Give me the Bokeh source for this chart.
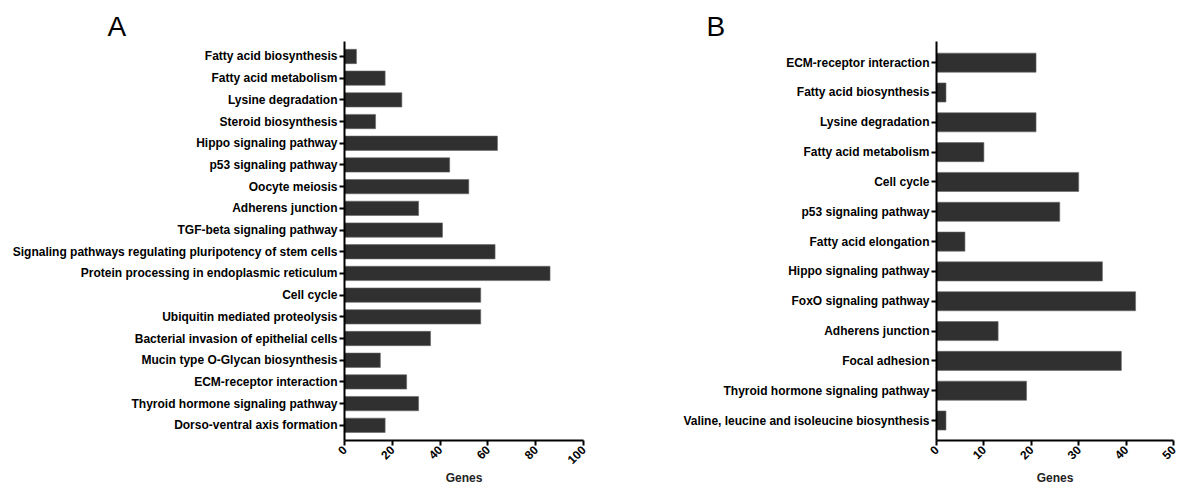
import math
from bokeh.plotting import figure
from bokeh.layouts import row
from bokeh.models import Range1d, FixedTicker
from bokeh.embed import file_html
from bokeh.resources import INLINE

# ---- data ----
pathways_a = [
    "Fatty acid biosynthesis", "Fatty acid metabolism", "Lysine degradation",
    "Steroid biosynthesis", "Hippo signaling pathway", "p53 signaling pathway",
    "Oocyte meiosis", "Adherens junction", "TGF-beta signaling pathway",
    "Signaling pathways regulating pluripotency of stem cells",
    "Protein processing in endoplasmic reticulum", "Cell cycle",
    "Ubiquitin mediated proteolysis", "Bacterial invasion of epithelial cells",
    "Mucin type O-Glycan biosynthesis", "ECM-receptor interaction",
    "Thyroid hormone signaling pathway", "Dorso-ventral axis formation",
]
genes_a = [5, 17, 24, 13, 64, 44, 52, 31, 41, 63, 86, 57, 57, 36, 15, 26, 31, 17]

pathways_b = [
    "ECM-receptor interaction", "Fatty acid biosynthesis", "Lysine degradation",
    "Fatty acid metabolism", "Cell cycle", "p53 signaling pathway",
    "Fatty acid elongation", "Hippo signaling pathway", "FoxO signaling pathway",
    "Adherens junction", "Focal adhesion", "Thyroid hormone signaling pathway",
    "Valine, leucine and isoleucine biosynthesis",
]
genes_b = [21, 2, 21, 10, 30, 26, 6, 35, 42, 13, 39, 19, 2]

ticks_a = [0, 20, 40, 60, 80, 100]
ticks_b = [0, 10, 20, 30, 40, 50]

FONT = "Liberation Sans"
BAR = "#303030"


def make_panel(letter, names, vals, xmax, ticks, bar_h, ypad_top, ypad_bot,
               left_border, frame_w, right_border, title_offset, label_standoff):
    n = len(names)
    idx = list(range(n))
    p = figure(
        output_backend="svg", toolbar_location=None,
        frame_width=frame_w, frame_height=399,
        min_border_left=left_border, min_border_right=right_border,
        min_border_top=41, min_border_bottom=44,
        x_range=Range1d(0, xmax),
        y_range=Range1d(n - 1 + ypad_bot, -ypad_top),
    )
    p.hbar(y=idx, right=vals, left=0, height=bar_h,
           fill_color=BAR, line_color="#666666", line_width=0.6)
    p.grid.visible = False
    p.outline_line_color = None
    p.background_fill_color = "white"
    p.border_fill_color = "white"

    ya = p.yaxis[0]
    ya.ticker = FixedTicker(ticks=idx)
    ya.major_label_overrides = {i: nm for i, nm in enumerate(names)}
    xa = p.xaxis[0]
    xa.ticker = FixedTicker(ticks=ticks)
    xa.major_label_orientation = math.pi / 4
    xa.axis_label = "Genes"
    for ax in (xa, ya):
        ax.axis_line_width = 2
        ax.axis_line_color = "black"
        ax.major_tick_line_width = 2
        ax.major_tick_line_color = "black"
        ax.major_tick_out = 5
        ax.major_tick_in = 0
        ax.minor_tick_line_color = None
        ax.major_label_text_font = FONT
        ax.major_label_text_font_style = "bold"
        ax.major_label_text_font_size = "12px"
        ax.major_label_text_color = "black"
        ax.major_label_standoff = 2
    xa.axis_label_text_font = FONT
    xa.axis_label_text_font_style = "bold"
    xa.axis_label_text_font_size = "12px"
    xa.axis_label_text_color = "#222222"
    xa.axis_label_standoff = label_standoff

    p.title.text = letter
    p.title.text_font = FONT
    p.title.text_font_style = "normal"
    p.title.text_font_size = "28px"
    p.title.text_color = "black"
    p.title.align = "left"
    p.title.standoff = 0
    p.title.offset = title_offset
    return p


pa = make_panel("A", pathways_a, genes_a, 100, ticks_a, 0.66, 0.69, 0.70,
                344, 239, 17, -237, 0)
pb = make_panel("B", pathways_b, genes_b, 50, ticks_b, 0.64, 0.71, 0.67,
                336, 237, 5, -230, 5)

layout = row(pa, pb)
open("out.html", "w").write(file_html(layout, INLINE))
